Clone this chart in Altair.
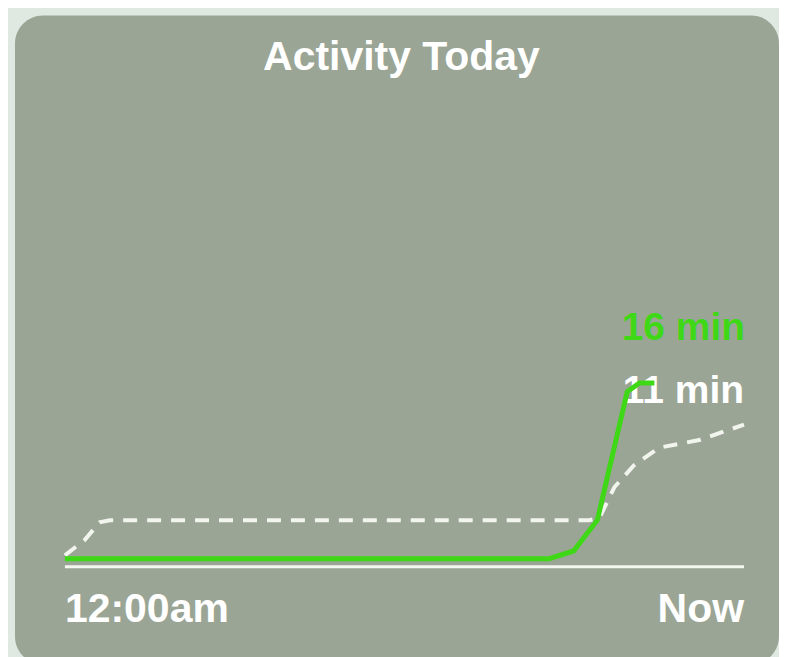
import altair as alt
import pandas as pd

# Time position as % of the day elapsed (0 = 12:00am, 100 = Now); values in minutes
green_t = [0, 71.3, 74.9, 78.4, 82.8, 84.6, 86.8]
green_v = [0, 0, 0.7, 3.5, 15.2, 16, 16]
dash_t = [0, 2.9, 5.1, 6.6, 77.2, 78.7, 80.9, 83.8, 87.5, 93.4, 100]
dash_v = [0.3, 1.7, 3.3, 3.5, 3.5, 3.7, 6.5, 8.5, 10.1, 10.8, 12.2]

labels_text = ["16 min", "11 min"]
x_labels = ["12:00am", "Now"]
title_text = "Activity Today"

green = pd.DataFrame({"t": green_t, "v": green_v})
dash = pd.DataFrame({"t": dash_t, "v": dash_v})

W, H = 765, 650
xs = alt.Scale(domain=[-7.35, 105.15], nice=False, zero=False)
ys = alt.Scale(domain=[-9.64, 49.45], nice=False, zero=False)

base_x = alt.X("t:Q", scale=xs, axis=None)
base_y = alt.Y("v:Q", scale=ys, axis=None)

axis_line = alt.Chart(pd.DataFrame({"a": [0]})).mark_rule(
    color="#f4f6f0", strokeWidth=3
).encode(x=alt.value(50), x2=alt.value(730), y=alt.value(552))

dash_line = alt.Chart(dash).mark_line(
    color="#f2f4ee", strokeWidth=4, strokeDash=[14, 10]
).encode(x=base_x, y=base_y)

green_line = alt.Chart(green).mark_line(
    color="#3fd817", strokeWidth=5
).encode(x=base_x, y=base_y)

font = "Liberation Sans"
title = alt.Chart(pd.DataFrame({"s": [title_text]})).mark_text(
    color="white", fontSize=41, fontWeight="bold", font=font, align="center", baseline="middle"
).encode(x=alt.value(387), y=alt.value(43), text="s:N")

lab_green = alt.Chart(pd.DataFrame({"s": [labels_text[0]]})).mark_text(
    color="#3fd817", fontSize=39, fontWeight="bold", font=font, align="right", baseline="middle"
).encode(x=alt.value(731), y=alt.value(313), text="s:N")

lab_white = alt.Chart(pd.DataFrame({"s": [labels_text[1]]})).mark_text(
    color="white", fontSize=39, fontWeight="bold", font=font, align="right", baseline="middle"
).encode(x=alt.value(730), y=alt.value(376), text="s:N")

xl0 = alt.Chart(pd.DataFrame({"s": [x_labels[0]]})).mark_text(
    color="white", fontSize=41, fontWeight="bold", font=font, align="left", baseline="middle"
).encode(x=alt.value(50), y=alt.value(595), text="s:N")

xl1 = alt.Chart(pd.DataFrame({"s": [x_labels[1]]})).mark_text(
    color="white", fontSize=41, fontWeight="bold", font=font, align="right", baseline="middle"
).encode(x=alt.value(730), y=alt.value(595), text="s:N")

chart = alt.layer(
    title, lab_green, lab_white, xl0, xl1, axis_line, dash_line, green_line
).properties(
    width=W, height=H,
    padding={"left": 7, "top": 7, "right": 0, "bottom": 0},
    autosize=alt.AutoSizeParams(type="none"),
    background="#dfe9e1",
).configure_view(
    fill="#9aa595", stroke=None, cornerRadius=28
)

chart.save("out.html", embed_options={"renderer": "svg", "actions": False})
